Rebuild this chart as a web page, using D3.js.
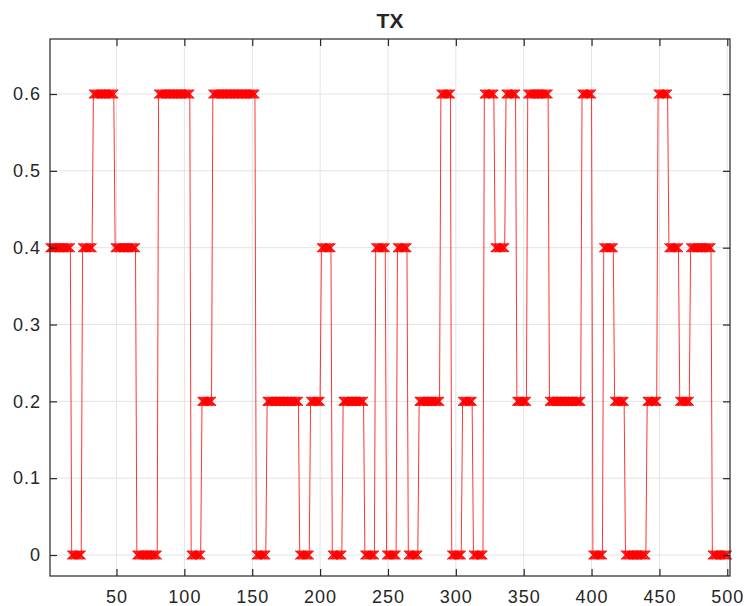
<!DOCTYPE html>
<html>
<head>
<meta charset="utf-8">
<script src="https://cdn.jsdelivr.net/npm/d3@7"></script>
<style>
  body { margin: 0; background: #fff; }
  text { font-family: "Liberation Sans", Arial, Helvetica, sans-serif; fill: #262626; }
</style>
</head>
<body>
<div id="chart"></div>
<script>
// level of each 8-sample symbol (last symbol is only 4 samples long)
const symbolLevels = [
  0.4, 0.4, 0, 0.4, 0.6, 0.6, 0.4, 0.4, 0, 0,
  0.6, 0.6, 0.6, 0, 0.2, 0.6, 0.6, 0.6, 0.6, 0,
  0.2, 0.2, 0.2, 0, 0.2, 0.4, 0, 0.2, 0.2, 0,
  0.4, 0, 0.4, 0, 0.2, 0.2, 0.6, 0, 0.2, 0,
  0.6, 0.4, 0.6, 0.2, 0.6, 0.6, 0.2, 0.2, 0.2, 0.6,
  0, 0.4, 0.2, 0, 0, 0.2, 0.6, 0.4, 0.2, 0.4,
  0.4, 0, 0
];
const samplesPerSymbol = 8;
const sampleCount = 500;
const xTicks = [50, 100, 150, 200, 250, 300, 350, 400, 450, 500];
const yTicks = [0, 0.1, 0.2, 0.3, 0.4, 0.5, 0.6];
const titleText = "TX";

// every sample holds the level of the symbol it belongs to
const samples = [];
for (let n = 1; n <= sampleCount; n++) {
  samples.push({ x: n, y: symbolLevels[Math.floor((n - 1) / samplesPerSymbol)] });
}

const width = 745, height = 606;
const plot = { left: 50, right: 730, top: 39, bottom: 576 };

const svg = d3.select("#chart")
  .append("svg")
  .attr("width", width)
  .attr("height", height);

const x = d3.scaleLinear().domain([1, 502]).range([plot.left, plot.right]);
const y = d3.scaleLinear().domain([-0.0273, 0.6716]).range([plot.bottom, plot.top]);

// grid
svg.append("g")
  .selectAll("line.vgrid")
  .data(xTicks)
  .enter()
  .append("line")
  .attr("x1", d => x(d)).attr("x2", d => x(d))
  .attr("y1", plot.top).attr("y2", plot.bottom)
  .attr("stroke", "#e3e3e3")
  .attr("stroke-width", 1);
svg.append("g")
  .selectAll("line.hgrid")
  .data(yTicks)
  .enter()
  .append("line")
  .attr("x1", plot.left).attr("x2", plot.right)
  .attr("y1", d => y(d)).attr("y2", d => y(d))
  .attr("stroke", "#e3e3e3")
  .attr("stroke-width", 1);

// the line
const line = d3.line()
  .x(d => x(d.x))
  .y(d => y(d.y));
svg.append("path")
  .datum(samples)
  .attr("d", line)
  .attr("fill", "none")
  .attr("stroke", "#ff0000")
  .attr("stroke-width", 0.8);

// x markers at every sample
const m = 4.4;
svg.append("g")
  .selectAll("path.marker")
  .data(samples)
  .enter()
  .append("path")
  .attr("d", d => {
    const cx = x(d.x), cy = y(d.y);
    return "M" + (cx - m) + "," + (cy - m) + "L" + (cx + m) + "," + (cy + m) +
           "M" + (cx - m) + "," + (cy + m) + "L" + (cx + m) + "," + (cy - m);
  })
  .attr("stroke", "#ff0000")
  .attr("stroke-width", 1.1)
  .attr("fill", "none");

// axes, ticks pointing inward on all four sides
function styleAxis(g) {
  g.select(".domain").remove();
  g.selectAll(".tick line").attr("stroke", "#262626").attr("stroke-width", 1.2);
  g.selectAll(".tick text")
    .style("font-family", "'Liberation Sans', Arial, Helvetica, sans-serif")
    .style("font-size", "18px")
    .style("letter-spacing", "1px")
    .attr("fill", "#262626");
}

svg.append("g")
  .attr("transform", "translate(0," + plot.bottom + ")")
  .call(d3.axisBottom(x).tickValues(xTicks).tickSizeInner(-7).tickSizeOuter(0).tickPadding(14))
  .call(styleAxis);

svg.append("g")
  .attr("transform", "translate(" + plot.left + ",0)")
  .call(d3.axisLeft(y).tickValues(yTicks).tickSizeInner(-7).tickSizeOuter(0).tickPadding(9)
    .tickFormat(d => d === 0 ? "0" : d3.format(".1f")(d)))
  .call(styleAxis);

svg.append("g")
  .attr("transform", "translate(0," + plot.top + ")")
  .call(d3.axisTop(x).tickValues(xTicks).tickSizeInner(-7).tickSizeOuter(0).tickFormat(""))
  .call(styleAxis);

svg.append("g")
  .attr("transform", "translate(" + plot.right + ",0)")
  .call(d3.axisRight(y).tickValues(yTicks).tickSizeInner(-7).tickSizeOuter(0).tickFormat(""))
  .call(styleAxis);

// axes box
svg.append("rect")
  .attr("x", plot.left)
  .attr("y", plot.top)
  .attr("width", plot.right - plot.left)
  .attr("height", plot.bottom - plot.top)
  .attr("fill", "none")
  .attr("stroke", "#262626")
  .attr("stroke-width", 1.2);

// title
svg.append("text")
  .attr("x", (plot.left + plot.right) / 2)
  .attr("y", 28)
  .attr("text-anchor", "middle")
  .style("font-size", "21px")
  .style("font-weight", "bold")
  .attr("fill", "#000")
  .text(titleText);
</script>
</body>
</html>
